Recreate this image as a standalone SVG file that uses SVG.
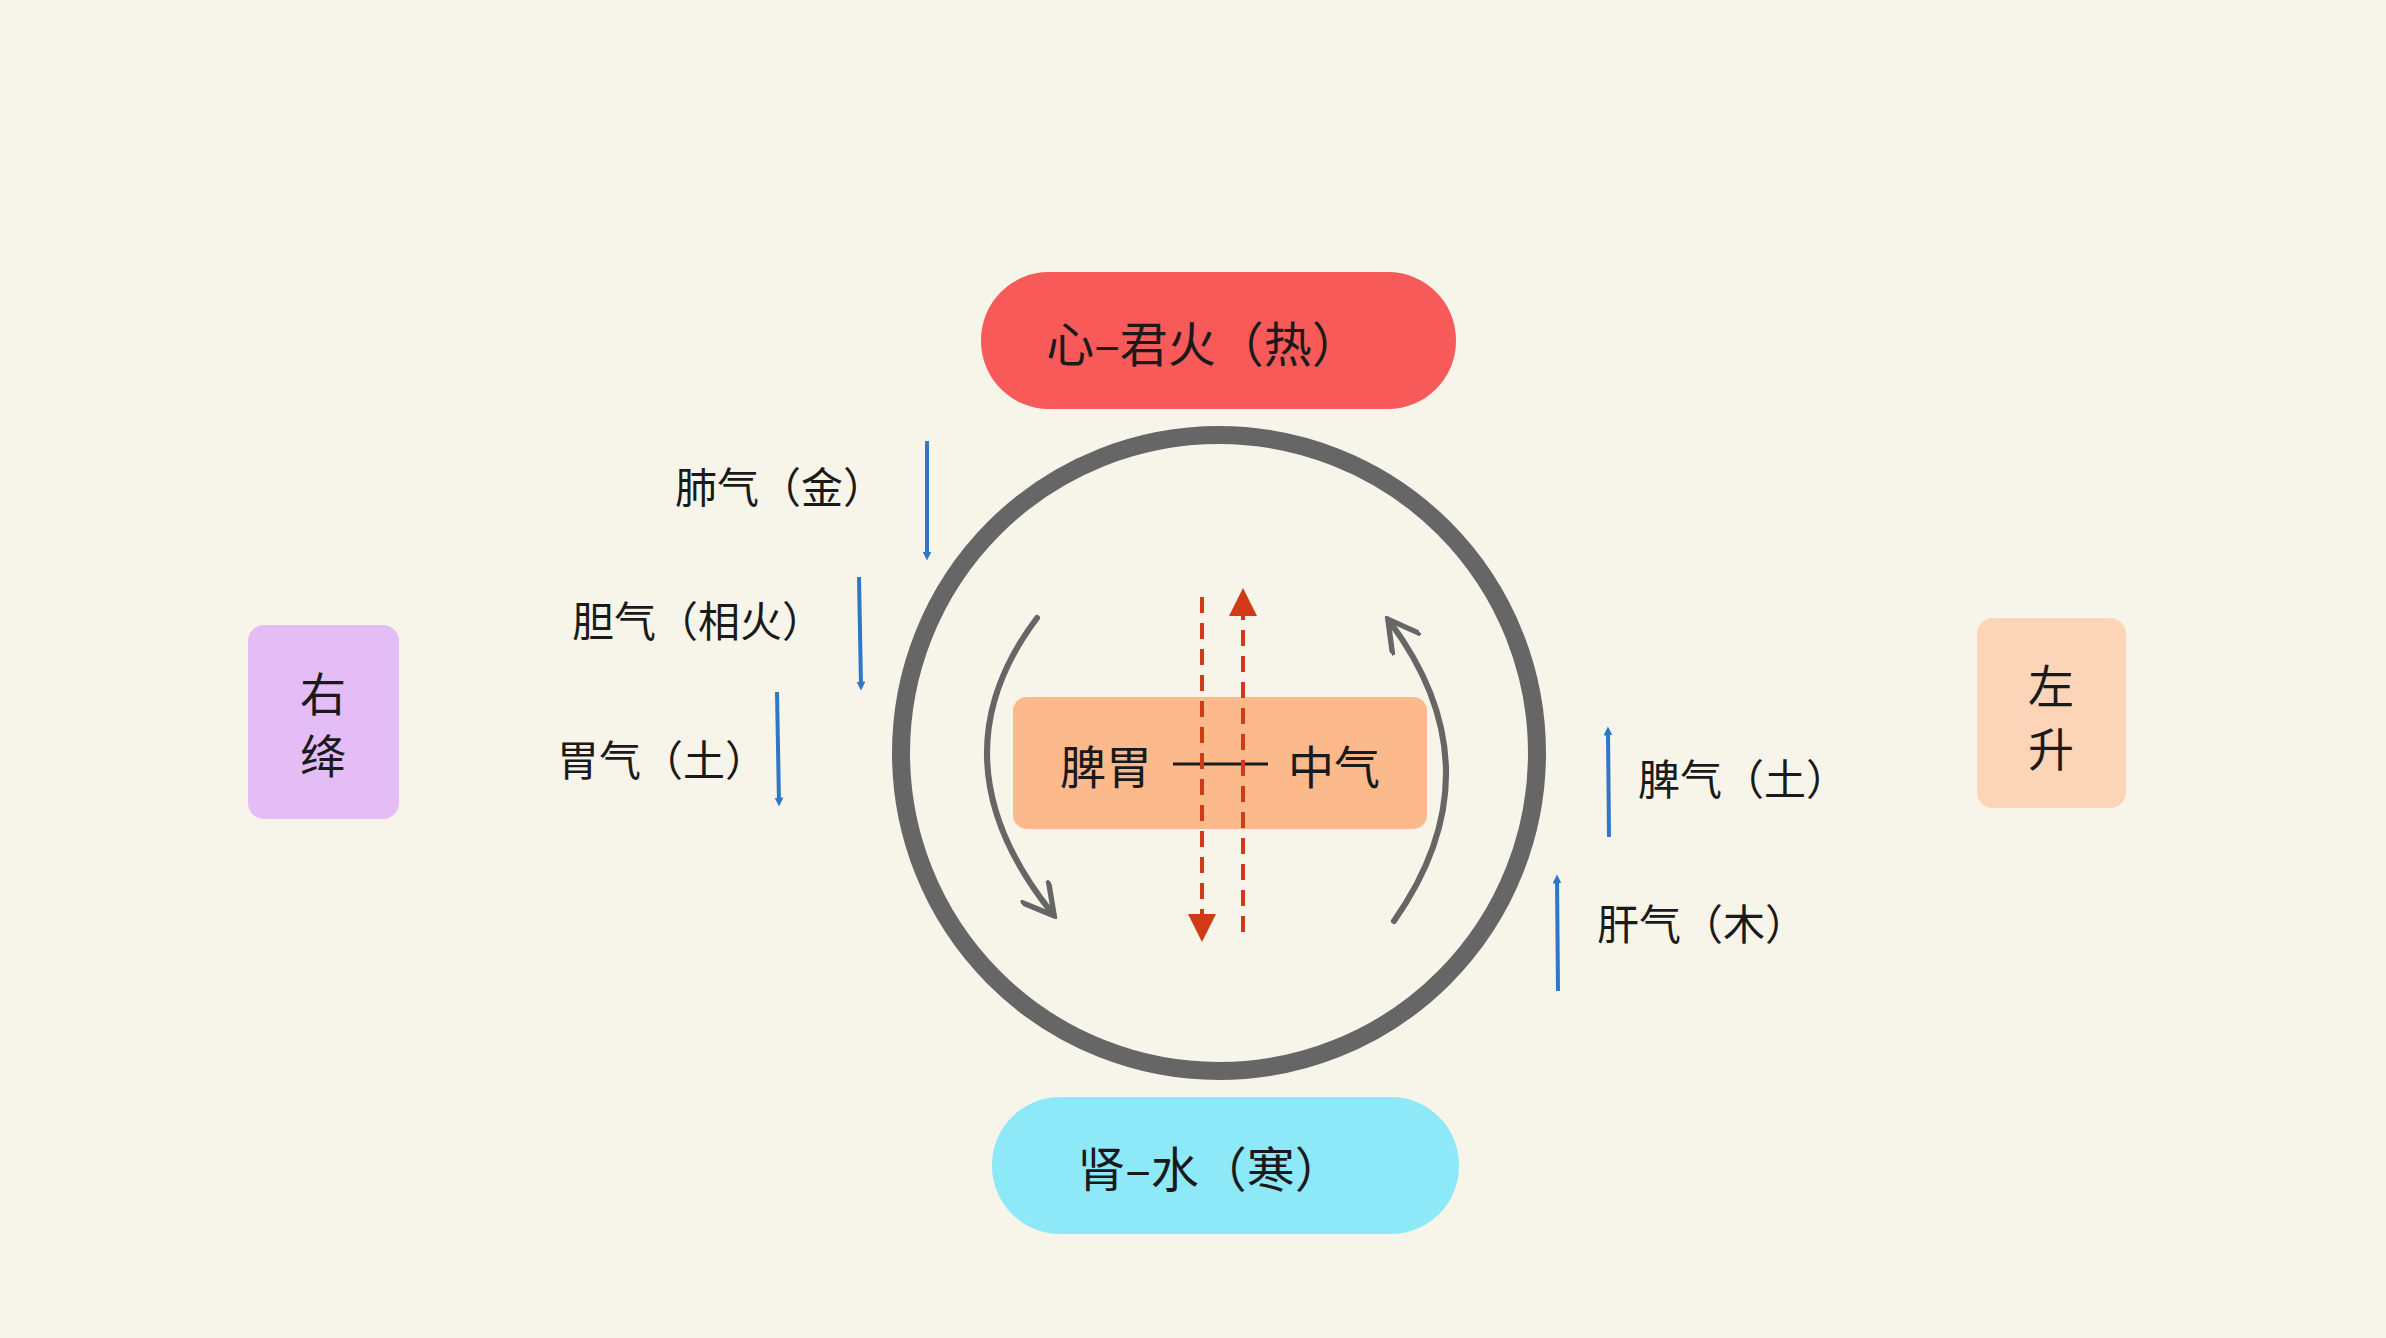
<svg xmlns="http://www.w3.org/2000/svg" width="2386" height="1338" viewBox="0 0 2386 1338">
<style>
text{font-family:"Noto Sans CJK SC","Liberation Sans",sans-serif;fill:#1a1a1a;dominant-baseline:central}
.c{text-anchor:middle}
.blue{stroke:#2f78c8;stroke-width:4;fill:none}
.red{stroke:#d03a17;stroke-width:4;stroke-dasharray:16 10;fill:none}
.gray{stroke:#666;stroke-width:6;fill:none;stroke-linecap:round}
</style>
<defs>
<marker id="ab" viewBox="0 0 10 10" refX="5" refY="5" markerWidth="9" markerHeight="9" markerUnits="userSpaceOnUse" orient="auto"><path d="M0,0L10,5L0,10z" fill="#2f78c8"/></marker>
<marker id="ar" viewBox="0 0 10 10" refX="5" refY="5" markerWidth="7" markerHeight="7" orient="auto"><path d="M0,0L10,5L0,10z" fill="#d03a17"/></marker>
<marker id="ag" viewBox="0 0 10 10" refX="8" refY="5" markerWidth="6" markerHeight="6" orient="auto"><path d="M0,0L9,5L0,10" fill="none" stroke="#666" stroke-width="1.5"/></marker>
</defs>
<rect width="2386" height="1338" fill="#f7f5e9"/>
<g id="ring"><circle cx="1219" cy="753" r="318" fill="none" stroke="#666" stroke-width="18"/></g>
<g id="heart"><rect x="981" y="272" width="475" height="137" rx="68" fill="#f85a5a"/><text class="c" x="1203" y="341" font-size="48">心–君火（热）</text></g>
<g id="kidney"><rect x="992" y="1097" width="467" height="137" rx="68" fill="#8de8f8"/><text class="c" x="1210" y="1166" font-size="48">肾–水（寒）</text></g>
<g id="center"><rect x="1013" y="697" width="414" height="132" rx="14" fill="#fbb98c"/><text class="c" x="1106" y="764" font-size="46">脾胃</text><text class="c" x="1334" y="764" font-size="46">中气</text><line x1="1173" y1="764" x2="1268" y2="764" stroke="#1a1a1a" stroke-width="3"/></g>
<g id="right-desc"><rect x="248" y="625" width="151" height="194" rx="16" fill="#e4bdf7"/><text class="c" x="323" y="691" font-size="46">右</text><text class="c" x="323" y="753" font-size="46">绛</text></g>
<g id="left-asc"><rect x="1977" y="618" width="149" height="190" rx="16" fill="#fcd4b8"/><text class="c" x="2051" y="683" font-size="46">左</text><text class="c" x="2051" y="746" font-size="46">升</text></g>
<g id="labels">
<text x="675" y="484" font-size="42">肺气（金）</text>
<text x="572" y="618" font-size="42">胆气（相火）</text>
<text x="557" y="757" font-size="42">胃气（土）</text>
<text x="1638" y="776" font-size="42">脾气（土）</text>
<text x="1597" y="921" font-size="42">肝气（木）</text>
</g>
<g id="connectors">
<line class="blue" x1="927" y1="441" x2="927" y2="556" marker-end="url(#ab)"/>
<line class="blue" x1="859" y1="577" x2="861" y2="686" marker-end="url(#ab)"/>
<line class="blue" x1="777" y1="692" x2="779" y2="802" marker-end="url(#ab)"/>
<line class="blue" x1="1609" y1="837" x2="1608" y2="731" marker-end="url(#ab)"/>
<line class="blue" x1="1558" y1="991" x2="1557" y2="879" marker-end="url(#ab)"/>
<line class="red" x1="1202" y1="597" x2="1202" y2="928" marker-end="url(#ar)"/>
<line class="red" x1="1243" y1="932" x2="1243" y2="602" marker-end="url(#ar)"/>
<path class="gray" d="M1037,618 Q930,760 1052,913" marker-end="url(#ag)"/>
<path class="gray" d="M1394,921 Q1500,770 1390,622" marker-end="url(#ag)"/>
</g>
</svg>
